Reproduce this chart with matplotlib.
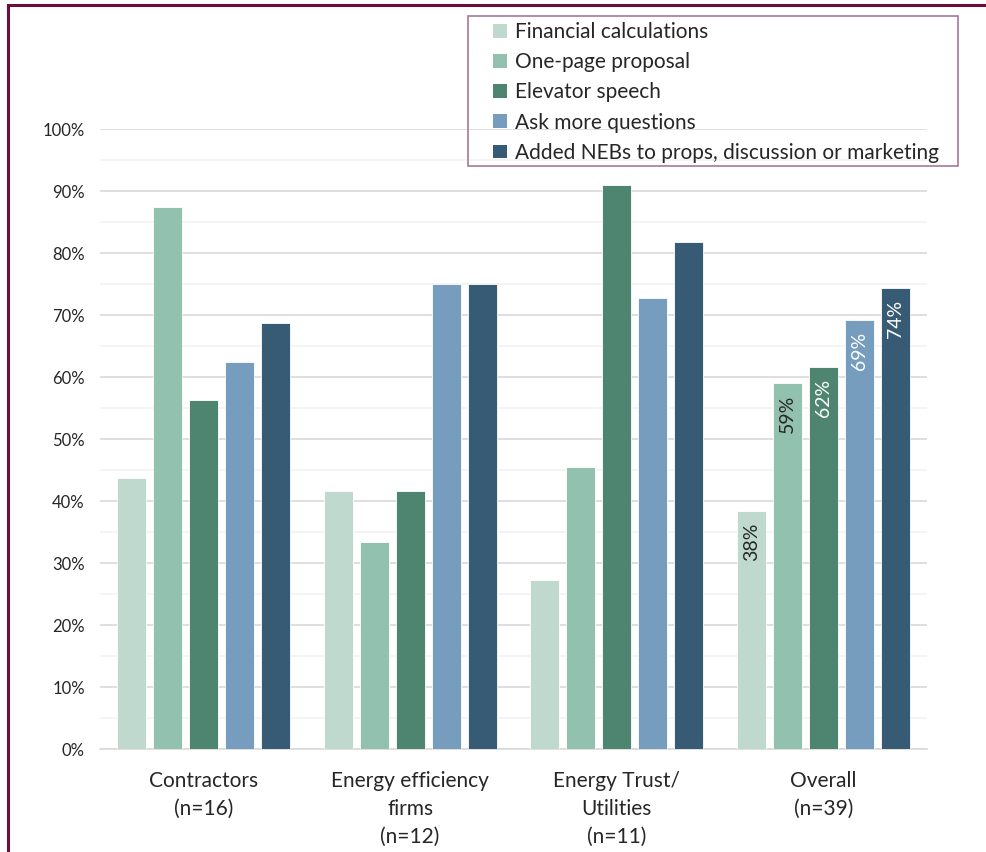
import matplotlib
matplotlib.use("Agg")
import matplotlib.pyplot as plt
from matplotlib.patches import Rectangle, Patch
import numpy as np

plt.rcParams['font.family'] = ['Lato', 'DejaVu Sans']

groups = ['Contractors\n(n=16)', 'Energy efficiency\nfirms\n(n=12)',
          'Energy Trust/\nUtilities\n(n=11)', 'Overall\n(n=39)']
series = ['Financial calculations', 'One-page proposal', 'Elevator speech',
          'Ask more questions', 'Added NEBs to props, discussion or marketing']
colors = ['#BFD9CF', '#93C1AF', '#4E8570', '#769DBE', '#375B75']

financial = [43.75, 41.67, 27.27, 38.46]
one_page = [87.5, 33.33, 45.45, 58.97]
elevator = [56.25, 41.67, 90.91, 61.54]
ask_more = [62.5, 75.0, 72.73, 69.23]
added_nebs = [68.75, 75.0, 81.82, 74.36]
values = [financial, one_page, elevator, ask_more, added_nebs]

overall_labels = ['38%', '59%', '62%', '69%', '74%']
label_colors = ['#262626', '#262626', 'white', 'white', 'white']

fig = plt.figure(figsize=(9.87, 8.52), dpi=100)
ax = fig.add_axes([100/987, 1-749/852, 827/987, 620/852])

x = np.arange(len(groups))
pitch = 0.174
width = 0.14
for i, (name, vals, c) in enumerate(zip(series, values, colors)):
    pos = x + (i - 2) * pitch
    ax.bar(pos, vals, width, color=c, edgecolor='white', linewidth=0.6, label=name, zorder=3)
    # data labels only on the Overall group
    ax.text(pos[3], vals[3] - 1.9, overall_labels[i], rotation=90, ha='center', va='top',
            fontsize=14, color=label_colors[i], zorder=4)

ax.set_xlim(-0.5, 3.5)
ax.set_ylim(0, 100)
ax.set_yticks(np.arange(0, 101, 10))
ax.set_yticklabels([f'{v}%' for v in range(0, 101, 10)], fontsize=12, color='#262626')
ax.set_yticks(np.arange(5, 100, 10), minor=True)
ax.grid(axis='y', which='major', color='#D9D9D9', linewidth=1.2, zorder=0)
ax.grid(axis='y', which='minor', color='#F2F2F2', linewidth=1.2, zorder=0)
ax.set_xticks(x)
ax.set_xticklabels(groups, fontsize=15, color='#262626', linespacing=1.5, va='top')
ax.tick_params(axis='both', which='both', length=0)
ax.tick_params(axis='y', pad=11)
ax.tick_params(axis='x', pad=16)
for s in ['top', 'right', 'left']:
    ax.spines[s].set_visible(False)
ax.spines['bottom'].set_color('#D9D9D9')
ax.spines['bottom'].set_linewidth(1.2)

# legend without frame, box drawn separately
handles = [Patch(facecolor=c, edgecolor='none') for c in colors]
fig.legend(handles, series, loc='upper left', bbox_to_anchor=(493/987, 1-22/852),
           frameon=False, fontsize=15, handlelength=0.65, handleheight=0.65,
           handletextpad=0.4, labelspacing=0.49, borderpad=0, borderaxespad=0,
           labelcolor='#262626')
fig.patches.append(Rectangle((468/987, 1-166/852), 490/987, 150/852, transform=fig.transFigure,
                             fill=False, edgecolor='#A8789A', linewidth=1.2))

# outer frame (only top and left visible)
fig.patches.append(Rectangle((8/987, -0.05), 1.1, 1.05 - 5/852, transform=fig.transFigure,
                             fill=False, edgecolor='#6B0E3A', linewidth=2.2, clip_on=False))

fig.savefig('out.png', dpi=100)
